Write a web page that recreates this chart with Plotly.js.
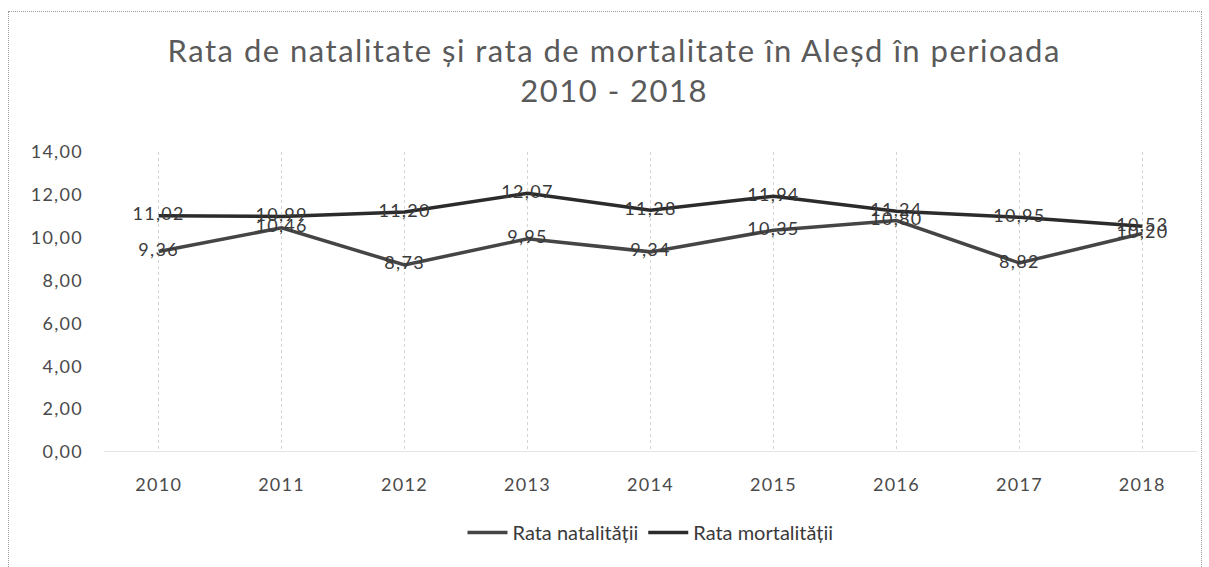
<!DOCTYPE html>
<html>
<head>
<meta charset="utf-8">
<script src="https://cdn.plot.ly/plotly-3.0.1.min.js"></script>
<style>
html,body{margin:0;padding:0;background:#fff;}
#wrap{position:relative;width:1209px;height:567px;overflow:hidden;}
#chart{position:absolute;left:0;top:0;width:1209px;height:567px;}
#frame{position:absolute;left:8px;top:11px;width:1192px;height:570px;border:1px dotted #9a9a9a;pointer-events:none;}
#chart .gtitle{letter-spacing:1.5px;}
#chart .xtick text, #chart .ytick text, #chart .textpoint text{letter-spacing:1.3px;}
</style>
</head>
<body>
<div id="wrap"><div id="chart"></div><div id="frame"></div></div>
<script>
const years = ['2010','2011','2012','2013','2014','2015','2016','2017','2018'];
const natalitate = [9.36, 10.46, 8.73, 9.95, 9.34, 10.35, 10.80, 8.82, 10.20];
const mortalitate = [11.02, 10.99, 11.20, 12.07, 11.28, 11.94, 11.24, 10.95, 10.53];
const seriesNames = ['Rata natalității', 'Rata mortalității'];
const yTicks = [0, 2, 4, 6, 8, 10, 12, 14];

function fmt(v){ return v.toFixed(2).replace('.', ','); }

const font = 'Lato, "Open Sans", sans-serif';
const traces = [
  {x: years, y: natalitate, name: seriesNames[0], type: 'scatter', mode: 'lines+text',
   line: {color: '#454545', width: 3.5}, text: natalitate.map(fmt), textposition: 'middle center',
   textfont: {family: font, size: 18, color: '#3a3a3a'}, cliponaxis: false},
  {x: years, y: mortalitate, name: seriesNames[1], type: 'scatter', mode: 'lines+text',
   line: {color: '#2b2b2b', width: 3.5}, text: mortalitate.map(fmt), textposition: 'middle center',
   textfont: {family: font, size: 18, color: '#3a3a3a'}, cliponaxis: false}
];

const layout = {
  width: 1209, height: 567,
  margin: {l: 104, r: 12, t: 152, b: 115},
  paper_bgcolor: 'rgba(0,0,0,0)', plot_bgcolor: 'rgba(0,0,0,0)',
  separators: ',.',
  title: {text: 'Rata de natalitate și rata de mortalitate în Aleșd în perioada<br>2010 - 2018',
          font: {family: font, size: 31, color: '#5a5a5a'}, x: 0.508, xref: 'container',
          y: 1 - 62/567, yref: 'container', yanchor: 'top'},
  xaxis: {type: 'category', showgrid: true, gridcolor: '#d4d4d4', griddash: 'dot', gridwidth: 1,
          zeroline: false, showline: false, ticks: '',
          tickfont: {family: font, size: 18, color: '#4a4a4a'}, ticklabelstandoff: 20},
  yaxis: {range: [0, 14], tickvals: yTicks, ticktext: yTicks.map(fmt), showgrid: false,
          zeroline: false, showline: false, ticks: '',
          tickfont: {family: font, size: 18, color: '#4a4a4a'}, ticklabelstandoff: 20},
  showlegend: true,
  legend: {orientation: 'h', x: 0.5, xanchor: 'center', y: -0.203, yanchor: 'top',
           font: {family: font, size: 20, color: '#3a3a3a'}, itemwidth: 40, tracegroupgap: 0},
  shapes: [{type: 'line', xref: 'paper', yref: 'y', x0: 0, x1: 1, y0: 0, y1: 0,
            line: {color: '#c8c8c8', width: 1}}]
};

Plotly.newPlot('chart', traces, layout, {displayModeBar: false, staticPlot: true});
</script>
</body>
</html>
